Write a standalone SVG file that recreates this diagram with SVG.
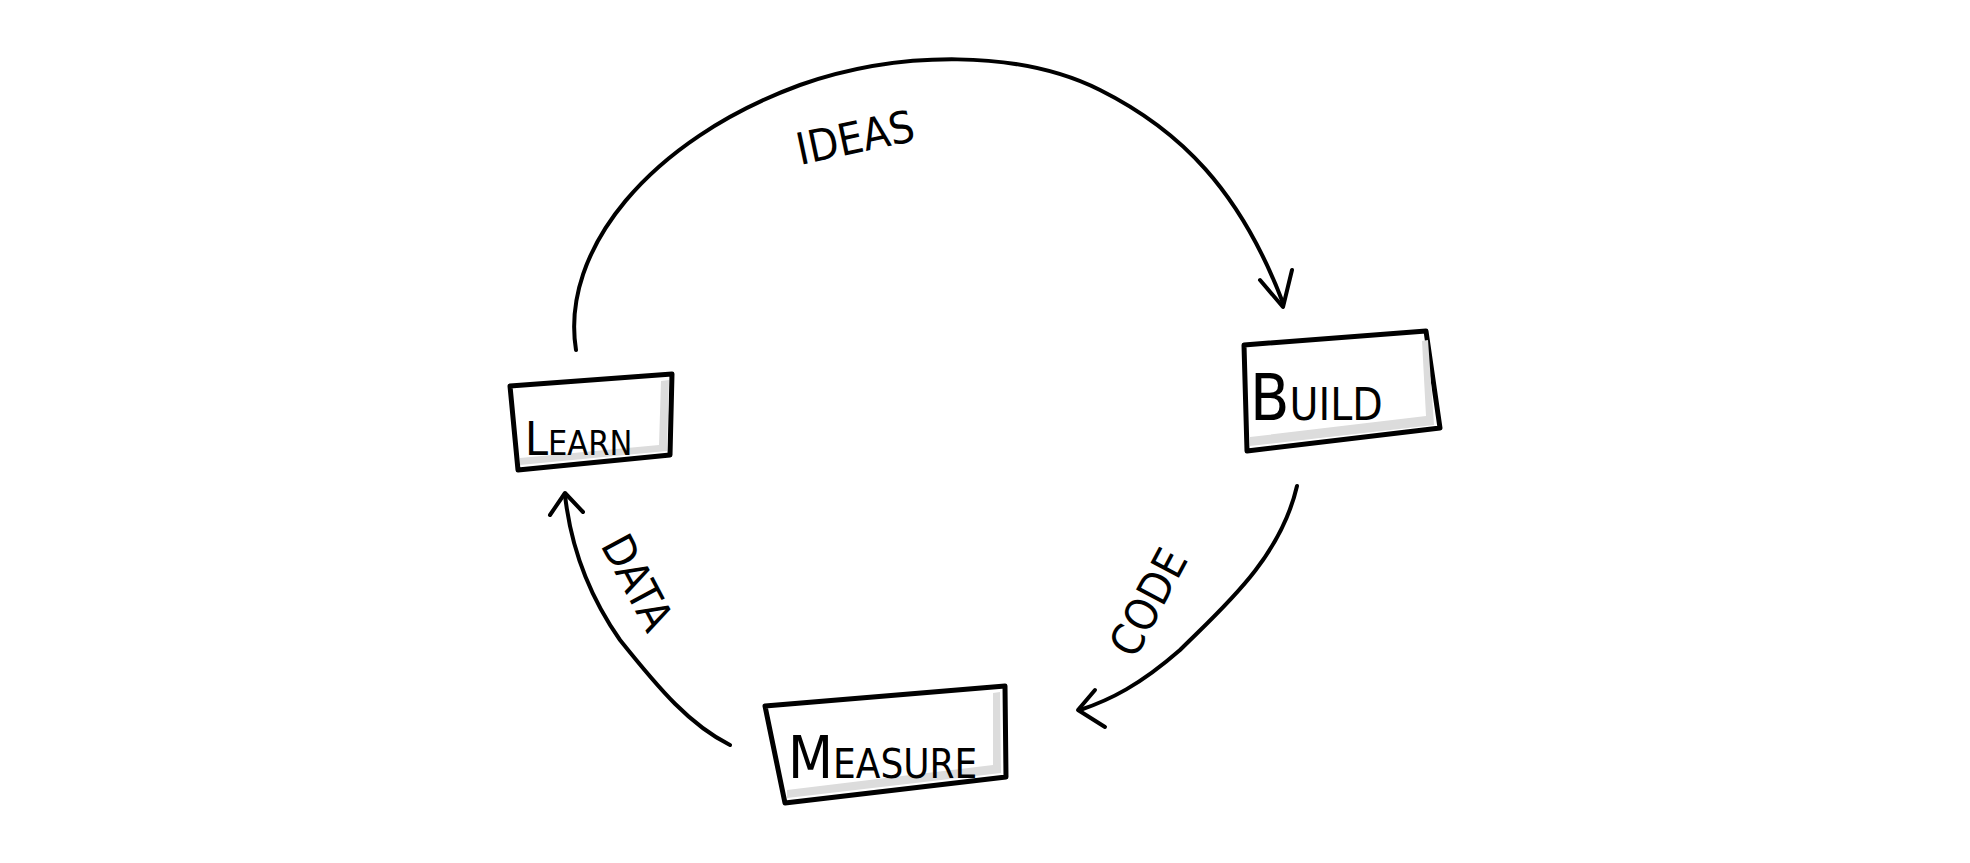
<svg xmlns="http://www.w3.org/2000/svg" width="1970" height="863" viewBox="0 0 1970 863">
<style>
.box{fill:#fff;stroke:#000;stroke-width:5;stroke-linejoin:round}
.sh{fill:#dcdcdc}
.lbl{font-family:"DejaVu Sans Condensed","DejaVu Sans",sans-serif;fill:#000}
.edge{fill:none;stroke:#000;stroke-width:4;stroke-linecap:round}
.head{fill:none;stroke:#000;stroke-width:4;stroke-linecap:round;stroke-linejoin:round}
</style>
<rect width="1970" height="863" fill="#fff"/>
<g id="connectors">
<path class="edge" d="M576,350 C560,250 650,140 800,85 C900,50 1020,50 1100,90 C1180,130 1240,190 1283,303"/>
<path class="head" d="M1260,280 L1283,307 L1292,270"/>
<path class="edge" d="M1297,486 C1280,560 1220,610 1180,650 C1140,685 1110,700 1080,710"/>
<path class="head" d="M1095,690 L1078,710 L1105,727"/>
<path class="edge" d="M730,745 C690,725 660,690 620,640 C585,590 570,540 565,495"/>
<path class="head" d="M550,515 L565,493 L583,512"/>
<text class="lbl" font-size="44" transform="translate(800,165) rotate(-12)">IDEAS</text>
<text class="lbl" font-size="44" transform="translate(1135,660) rotate(-62)">CODE</text>
<text class="lbl" font-size="44" transform="translate(600,545) rotate(62)">DATA</text>
</g>
<g id="learn">
<path class="box" d="M510,386 L672,374 L670,455 L518,470 Z"/>
<path class="sh" d="M520,465 L667,451 L669,380 L661,381 L659,445 L520,458 Z"/>
<text class="lbl" font-size="46" x="525" y="455">L<tspan font-size="34">EARN</tspan></text>
</g>
<g id="build">
<path class="box" d="M1244,345 L1426,331 L1440,428 L1247,451 Z"/>
<path class="sh" d="M1250,446 L1434,425 L1428,340 L1422,341 L1426,416 L1250,437 Z"/>
<text class="lbl" font-size="64" x="1250" y="420">B<tspan font-size="44">UILD</tspan></text>
</g>
<g id="measure">
<path class="box" d="M765,706 L1005,686 L1006,777 L785,803 Z"/>
<path class="sh" d="M787,798 L1001,773 L1000,692 L993,693 L993,765 L787,790 Z"/>
<text class="lbl" font-size="58" x="788" y="778">M<tspan font-size="40">EASURE</tspan></text>
</g>
</svg>
